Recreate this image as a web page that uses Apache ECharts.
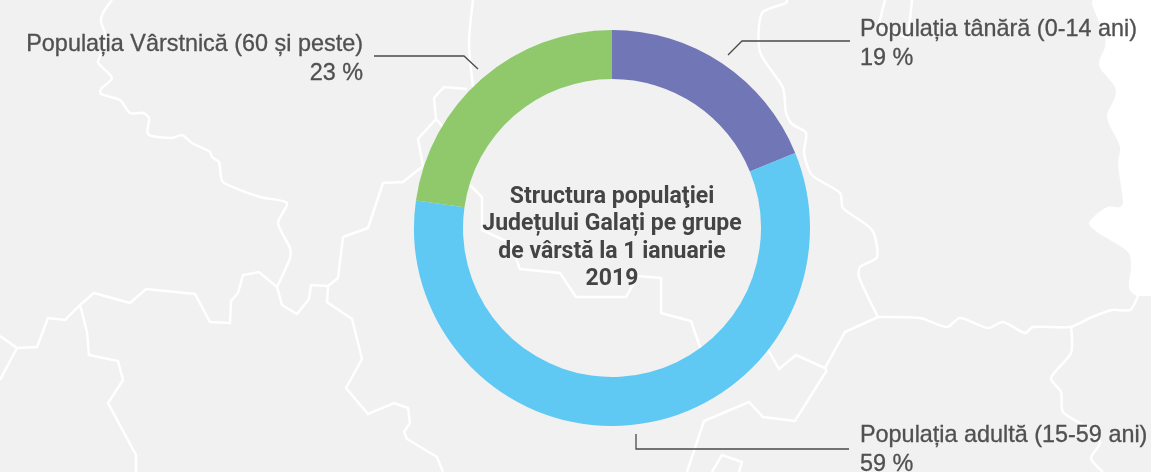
<!DOCTYPE html>
<html><head><meta charset="utf-8"><style>html,body{margin:0;padding:0;background:#f1f1f1}#c{width:1151px;height:472px}</style>
<script src="https://cdn.jsdelivr.net/npm/echarts@6/dist/echarts.min.js"></script></head>
<body><div id="c"></div><script>
// Data
var categories = ['Populația tânără (0-14 ani)', 'Populația adultă (15-59 ani)', 'Populația Vârstnică (60 și peste)'];
var percentValues = [19, 59, 23];
var centerTitle = 'Structura populaţiei\nJudețului Galați pe grupe\nde vârstă la 1 ianuarie\n2019';
var sliceColors = ['#6b70b4', '#58c7f2', '#8bc766'];

// Decorative backdrop (a county map behind the chart), not data.
var rivers = [
 [[112,0],[103,13],[101,22],[105,33],[105,47],[98,62],[112,78],[101,89],[101,94],[120,100],[130,113],[143,113],[149,118],[148,134],[172,138],[182,135],[192,143],[210,152],[212,157],[219,162],[221,177],[224,183],[260,197],[287,203],[278,223],[290,248],[290,258],[277,287]],
 [[473,0],[469,43],[473,87]],
 [[787,0],[786,3],[762,13],[760,52],[783,88],[786,113],[792,124],[806,133],[804,153],[812,175],[840,193],[843,208],[872,230],[877,257],[860,267],[859,277],[878,317]],
 [[878,317],[920,318],[947,327],[960,318],[988,328],[1003,322],[1025,333],[1033,327],[1070,327],[1090,318],[1112,310],[1130,310],[1138,296]],
 [[1071,327],[1071,353],[1051,378],[1061,392],[1063,412],[1088,428],[1100,443],[1091,458],[1103,472]]
];
var borders = [
 [[0,380],[17,348],[0,336]],
 [[17,348],[37,347],[48,318],[65,320],[80,305],[94,293],[130,303],[146,289],[195,294],[210,322],[230,323],[231,301],[238,293],[243,275],[259,272],[277,287],[282,305],[297,314],[309,299],[311,285],[328,286],[338,278],[343,237],[368,228],[383,183],[403,182],[423,166]],
 [[80,305],[87,332],[89,355],[118,361],[123,380],[108,403],[136,455],[136,472]],
 [[328,286],[327,302],[352,319],[362,359],[346,388],[368,414],[394,403],[408,408],[410,423],[404,432],[407,439],[437,457],[443,472]],
 [[467,89],[444,87],[434,98],[436,119],[418,139],[423,166]],
 [[436,119],[458,145],[448,163],[482,197],[482,230],[510,243],[520,269],[560,273],[576,297],[626,297],[638,276],[661,278],[661,313],[691,321],[700,347],[703,350],[733,354],[735,342],[767,348],[779,369],[796,355],[827,369]],
 [[825,368],[845,332],[878,317]],
 [[827,370],[795,421],[763,417],[749,402],[704,421],[687,472]],
 [[712,472],[722,455],[742,462],[739,472]],
 [[885,0],[878,27],[908,38],[912,0]]
];
var sea = [[1093,0],[1097,17],[1105,37],[1105,47],[1099,65],[1115,87],[1115,97],[1107,117],[1120,147],[1118,163],[1123,203],[1120,207],[1107,207],[1089,223],[1097,232],[1128,252],[1131,267],[1129,288],[1137,296],[1151,296],[1151,0]];

var labelPlace = [
 {x:860, y:44.5, align:'left', line:[[728,55],[742,41],[850,41]]},
 {x:860, y:450.5, align:'left', line:[[636,434],[636,449],[849,449]]},
 {x:363, y:59, align:'right', line:[[478,69],[464,56],[374,56]]}
];

var backdrop = [{type:'polygon', silent:true, z:0, shape:{points:sea,smooth:0.3}, style:{fill:'#fff'}},
 {type:'rect', silent:true, z:0, shape:{x:1130,y:296,width:21,height:10}, style:{fill:'#f1f1f1'}}];
rivers.forEach(function(p){backdrop.push({type:'polyline',silent:true,z:1,shape:{points:p,smooth:0.25},style:{stroke:'#fff',lineWidth:2.5,fill:null}});});
borders.forEach(function(p){backdrop.push({type:'polyline',silent:true,z:1,shape:{points:p},style:{stroke:'#fff',lineWidth:2.5,fill:null}});});

var chart = echarts.init(document.getElementById('c'), null, {renderer:'canvas'});
chart.setOption({
 animation:false,
 backgroundColor:'#f1f1f1',
 title:{text:centerTitle,left:607,top:178,textAlign:'center',z:5,
  textStyle:{fontFamily:'Roboto',fontWeight:'bold',fontSize:23,lineHeight:27.5,color:'#444'}},
 graphic:{elements:backdrop},
 series:[{
  type:'pie',z:3,silent:true,clockwise:true,startAngle:90,
  center:[612,228],radius:[149,198],
  data:categories.map(function(n,i){return {name:n,value:percentValues[i],itemStyle:{color:sliceColors[i],opacity:0.96}};}),
  label:{show:true,color:'#4a4a4a',fontFamily:'Liberation Sans',fontSize:23.4,lineHeight:29,textBorderColor:'#4a4a4a',textBorderWidth:0.3,
   formatter:function(p){return p.name+'\n'+p.value+' %';}},
  labelLine:{show:true,smooth:false,lineStyle:{color:'#4a4a4a',width:1.3}},
  labelLayout:function(p){var l=labelPlace[p.dataIndex];return {x:l.x,y:l.y,align:l.align,verticalAlign:'middle',labelLinePoints:l.line};}
 }]
});
</script></body></html>
